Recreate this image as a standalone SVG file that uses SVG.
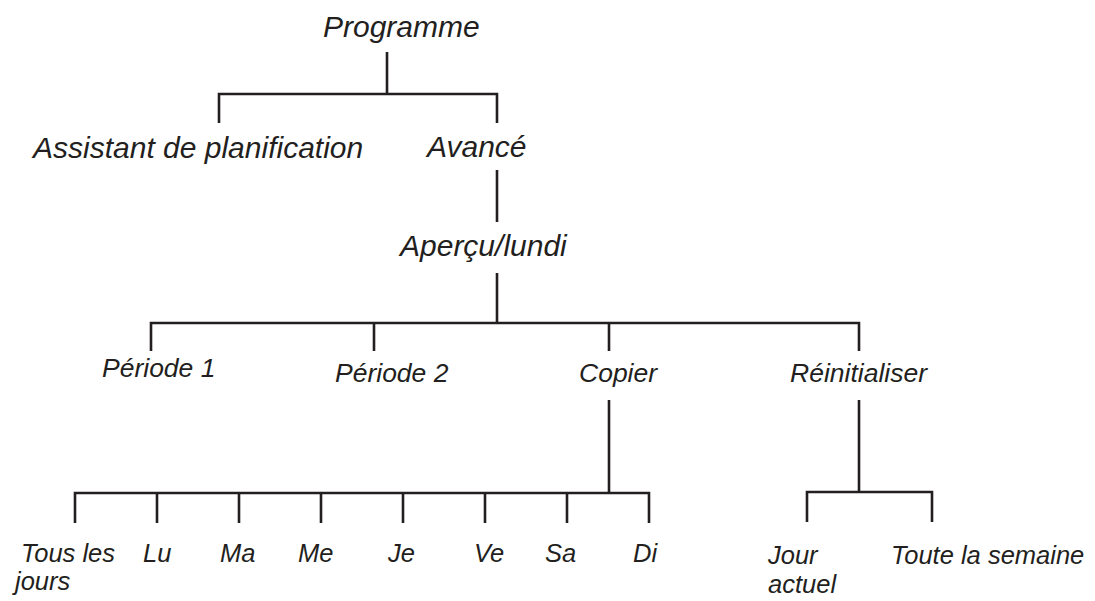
<svg xmlns="http://www.w3.org/2000/svg" width="1095" height="601" viewBox="0 0 1095 601">
<style>
text{font-family:"Liberation Sans",Arial,sans-serif;font-style:italic;fill:#231f20}
.l1{font-size:30px}
.l2{font-size:26.5px}
.l3{font-size:25.5px}
.c{fill:none;stroke:#231f20;stroke-width:2.6;stroke-linejoin:miter}
</style>
<rect width="1095" height="601" fill="#ffffff"/>
<g id="connectors">
<path class="c" d="M387,52 V94"/>
<path class="c" d="M219,123 V94 H497 V123"/>
<path class="c" d="M497,170 V222"/>
<path class="c" d="M497,273 V323"/>
<path class="c" d="M151,351 V323 H859 V351"/>
<path class="c" d="M374,323 V351"/>
<path class="c" d="M609,323 V351"/>
<path class="c" d="M609,400 V493"/>
<path class="c" d="M75,523 V493 H649 V523"/>
<path class="c" d="M157,493 V523 M239,493 V523 M321,493 V523 M403,493 V523 M485,493 V523 M567,493 V523"/>
<path class="c" d="M859,400 V492"/>
<path class="c" d="M807,522 V492 H932 V522"/>
</g>
<g id="programme"><text class="l1" x="323" y="37">Programme</text></g>
<g id="assistant"><text class="l1" x="33" y="158">Assistant de planification</text></g>
<g id="avance"><text class="l1" x="427" y="157">Avancé</text></g>
<g id="apercu"><text class="l1" x="400" y="256">Aperçu/lundi</text></g>
<g id="periode1"><text class="l2" x="102" y="377">Période 1</text></g>
<g id="periode2"><text class="l2" x="335" y="382">Période 2</text></g>
<g id="copier"><text class="l2" x="579" y="382">Copier</text></g>
<g id="reinitialiser"><text class="l2" x="790" y="382">Réinitialiser</text></g>
<g id="tous"><text class="l3" x="21" y="562">Tous les</text><text class="l3" x="15" y="590">jours</text></g>
<g id="lu"><text class="l3" x="143" y="562">Lu</text></g>
<g id="ma"><text class="l3" x="220" y="562">Ma</text></g>
<g id="me"><text class="l3" x="298" y="562">Me</text></g>
<g id="je"><text class="l3" x="388" y="562">Je</text></g>
<g id="ve"><text class="l3" x="474" y="562">Ve</text></g>
<g id="sa"><text class="l3" x="545" y="562">Sa</text></g>
<g id="di"><text class="l3" x="633" y="562">Di</text></g>
<g id="jour"><text class="l3" x="768" y="564">Jour</text><text class="l3" x="768" y="593">actuel</text></g>
<g id="semaine"><text class="l3" x="891" y="564">Toute la semaine</text></g>
</svg>
